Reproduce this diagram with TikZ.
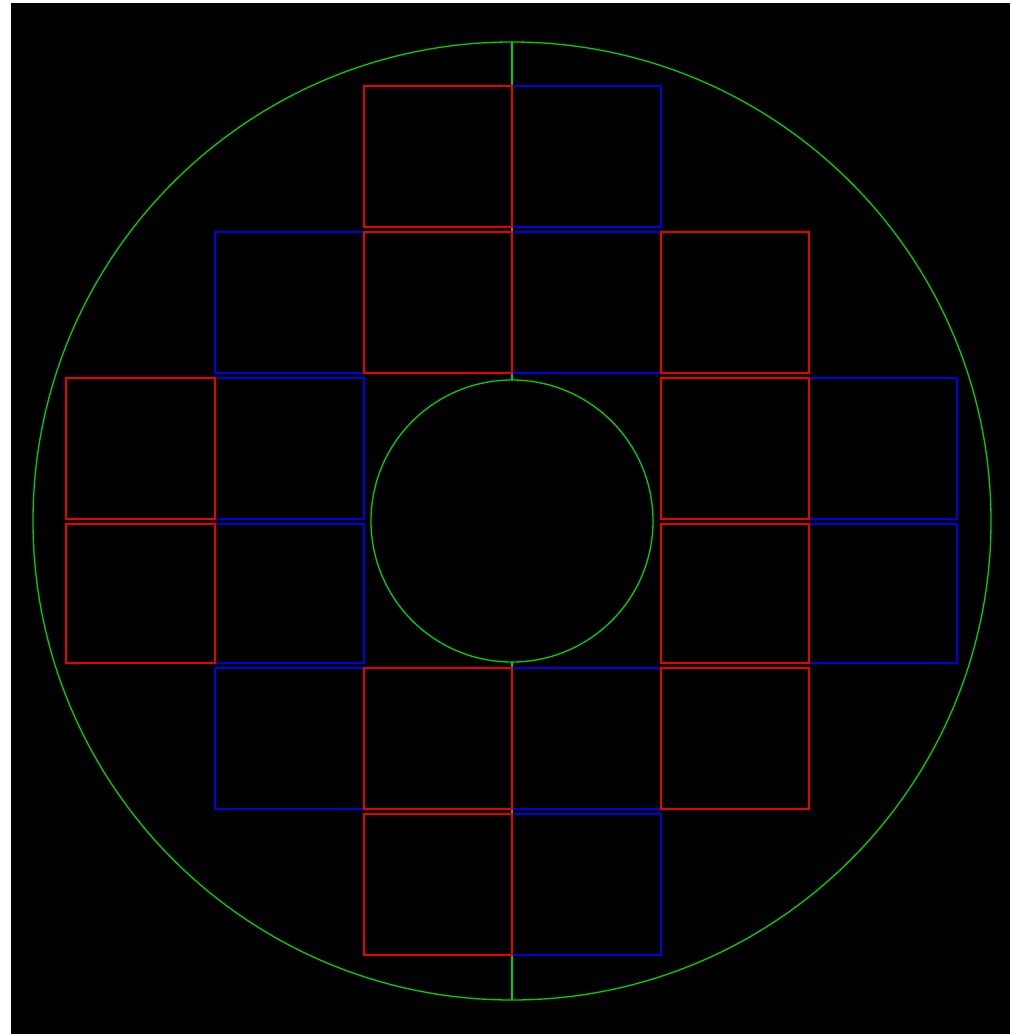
\documentclass[tikz,border=0pt]{standalone}
\begin{document}
\begin{tikzpicture}[x=1pt,y=-1pt,
  redbox/.style={draw={rgb,255:red,235;green,0;blue,0},line width=1.3pt},
  bluebox/.style={draw={rgb,255:red,0;green,0;blue,230},line width=1.3pt},
  greenline/.style={draw={rgb,255:red,0;green,210;blue,0},line width=1.3pt}]
\fill[white] (0,0) rectangle (1010,1034);
\useasboundingbox (0,0) rectangle (1010,1034);
\fill[black] (11,3) rectangle (1010,1034);
% circles and axis
\draw[greenline] (512,521) circle (479);
\draw[greenline] (512,521) circle (141);
\draw[greenline] (512,42) -- (512,380);
\draw[greenline] (512,662) -- (512,1000);
% blue boxes
\draw[bluebox] (512,86) rectangle (661,227);
\draw[bluebox] (215,232) rectangle (364,373);
\draw[bluebox] (512,232) rectangle (661,373);
\draw[bluebox] (215,378) rectangle (364,519);
\draw[bluebox] (809,378) rectangle (957,519);
\draw[bluebox] (215,524) rectangle (364,663);
\draw[bluebox] (809,524) rectangle (957,663);
\draw[bluebox] (215,668) rectangle (364,809);
\draw[bluebox] (512,668) rectangle (661,809);
\draw[bluebox] (512,814) rectangle (661,955);
% red boxes
\draw[redbox] (364,86) rectangle (512,227);
\draw[redbox] (364,232) rectangle (512,373);
\draw[redbox] (661,232) rectangle (809,373);
\draw[redbox] (66,378) rectangle (215,519);
\draw[redbox] (661,378) rectangle (809,519);
\draw[redbox] (66,524) rectangle (215,663);
\draw[redbox] (661,524) rectangle (809,663);
\draw[redbox] (364,668) rectangle (512,809);
\draw[redbox] (661,668) rectangle (809,809);
\draw[redbox] (364,814) rectangle (512,955);
\end{tikzpicture}
\end{document}
